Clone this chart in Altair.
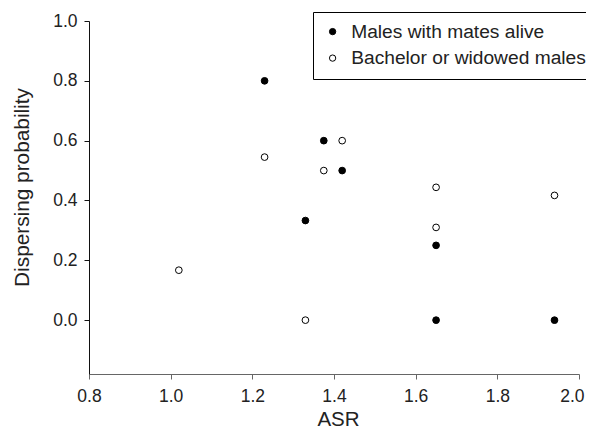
import altair as alt
import pandas as pd

groups = ["Males with mates alive", "Bachelor or widowed males"]

mated_x = [1.23, 1.375, 1.42, 1.33, 1.65, 1.65, 1.94]
mated_y = [0.80, 0.60, 0.50, 0.333, 0.25, 0.0, 0.0]

single_x = [1.02, 1.23, 1.375, 1.42, 1.65, 1.65, 1.94, 1.33]
single_y = [0.167, 0.545, 0.50, 0.60, 0.444, 0.31, 0.417, 0.0]

x_ticks = [0.8, 1.0, 1.2, 1.4, 1.6, 1.8, 2.0]
y_ticks = [0.0, 0.2, 0.4, 0.6, 0.8, 1.0]

rows = []
for xv, yv in zip(mated_x, mated_y):
    rows.append({"asr": xv, "prob": yv, "group": groups[0]})
for xv, yv in zip(single_x, single_y):
    rows.append({"asr": xv, "prob": yv, "group": groups[1]})
df = pd.DataFrame(rows)

FONT = "Liberation Sans"

chart = alt.Chart(df).mark_point(
    filled=True, size=45, stroke="black", strokeWidth=1, opacity=1, shape="circle"
).encode(
    x=alt.X(
        "asr:Q",
        scale=alt.Scale(domain=[0.8, 2.0], nice=False, zero=False),
        axis=alt.Axis(
            values=x_ticks, format=".1f", title="ASR", grid=False,
            domainColor="#666666", tickColor="#666666", tickSize=5,
            labelPadding=22, labelBaseline="alphabetic", labelFlush=False,
            labelAlign={"condition": {"test": "datum.value >= 1.99", "value": "right"}, "value": "center"},
            labelOffset={"condition": {"test": "datum.value >= 1.99", "value": 5}, "value": 0},
            labelFontSize=17.5, labelColor="#222222", labelFont=FONT,
            titleFontSize=20.5, titleFont=FONT, titleFontWeight="normal",
            titleColor="#222222", titleY=51, titleX=249,
            titleBaseline="alphabetic",
        ),
    ),
    y=alt.Y(
        "prob:Q",
        scale=alt.Scale(domain=[-0.18, 1.0], nice=False, zero=False),
        axis=alt.Axis(
            values=y_ticks, format=".1f", title="Dispersing probability",
            grid=False, domainColor="#111111", tickColor="#111111",
            tickSize=5, labelPadding=7, labelFlush=False,
            labelFontSize=17.5, labelColor="#222222", labelFont=FONT,
            titleFontSize=20.8, titleFont=FONT, titleFontWeight="normal",
            titleColor="#222222", titleX=-61, titleY=166,
            titleBaseline="alphabetic", titleAlign="center", titleAngle=-90,
        ),
    ),
    fill=alt.Fill(
        "group:N",
        scale=alt.Scale(domain=groups, range=["black", "white"]),
        legend=alt.Legend(
            title=None, orient="none", legendX=224, legendY=-9,
            strokeColor="black", padding=10, symbolType="circle",
            symbolSize=40, symbolStrokeColor="black", symbolStrokeWidth=1,
            symbolOffset=0, labelOffset=9, labelFontSize=19.2,
            labelFont=FONT, labelColor="#222222", rowPadding=6.5,
            labelLimit=400,
        ),
    ),
).properties(
    width=490,
    height=353,
    autosize=alt.AutoSizeParams(type="none"),
    padding={"left": 81, "top": 13, "right": 7, "bottom": 54},
).configure_view(stroke=None)

chart.save("out.html", embed_options={"renderer": "svg", "actions": False})
